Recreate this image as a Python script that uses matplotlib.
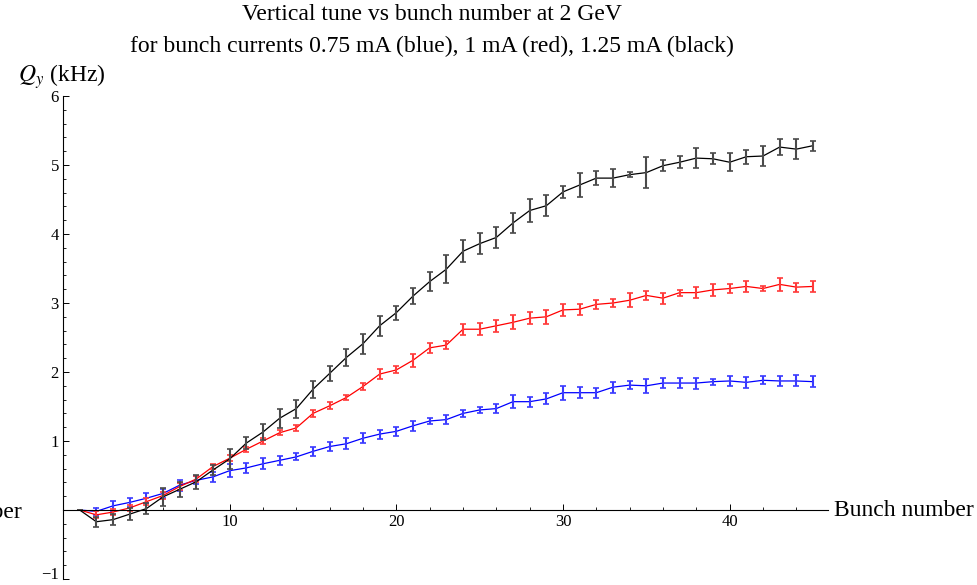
import matplotlib
matplotlib.use("Agg")
import matplotlib.pyplot as plt
import matplotlib.transforms as mtransforms
from matplotlib.ticker import MultipleLocator
import numpy as np

plt.rcParams['font.family'] = ['Liberation Serif', 'DejaVu Serif']
plt.rcParams['mathtext.fontset'] = 'stix'

# bunch numbers 1..45
bunch = list(range(1, 46))

# vertical tune shift (kHz) for 0.75 mA, 1 mA, 1.25 mA
q_blue = [0, -0.02, 0.06, 0.11, 0.17, 0.24, 0.36, 0.43, 0.48, 0.57,
          0.61, 0.67, 0.72, 0.77, 0.85, 0.92, 0.96, 1.04, 1.10, 1.14,
          1.22, 1.29, 1.31, 1.40, 1.45, 1.47, 1.57, 1.57, 1.61, 1.70,
          1.70, 1.70, 1.78, 1.81, 1.80, 1.84, 1.84, 1.84, 1.86, 1.87,
          1.85, 1.88, 1.87, 1.87, 1.86]
q_red = [0, -0.07, -0.03, 0.03, 0.12, 0.21, 0.34, 0.45, 0.63, 0.75,
         0.88, 1.00, 1.12, 1.19, 1.40, 1.51, 1.63, 1.79, 1.97, 2.03,
         2.17, 2.35, 2.39, 2.62, 2.62, 2.67, 2.72, 2.78, 2.80, 2.90,
         2.91, 2.98, 3.00, 3.04, 3.11, 3.07, 3.15, 3.15, 3.19, 3.21,
         3.24, 3.21, 3.27, 3.23, 3.24]
q_black = [0, -0.17, -0.14, -0.06, 0.02, 0.19, 0.30, 0.41, 0.58, 0.74,
           0.97, 1.13, 1.33, 1.47, 1.75, 1.98, 2.21, 2.41, 2.67, 2.86,
           3.10, 3.31, 3.49, 3.75, 3.86, 3.95, 4.16, 4.34, 4.41, 4.61,
           4.71, 4.81, 4.81, 4.86, 4.89, 4.99, 5.04, 5.10, 5.09, 5.04,
           5.12, 5.13, 5.26, 5.23, 5.28]

# error bars (half widths)
err_blue = [0, .055, .07, .06, .07, .06, .08, .06, .07, .09,
            .07, .08, .065, .05, .065, .07, .08, .07, .065, .07,
            .07, .05, .06, .045, .05, .07, .09, .07, .08, .1,
            .08, .07, .08, .06, .1, .07, .07, .08, .045, .07,
            .08, .06, .07, .08, .08]
err_red = [0, .05, .04, .04, .05, .05, .05, .04, .04, .045,
           .04, .05, .04, .04, .05, .05, .04, .05, .07, .05,
           .095, .07, .06, .08, .09, .09, .1, .09, .1, .09,
           .08, .065, .055, .1, .065, .08, .045, .075, .085, .07,
           .08, .035, .09, .065, .08]
err_black = [0, .07, .08, .09, .08, .13, .11, .1, .07, .14,
             .085, .12, .14, .13, .12, .11, .13, .145, .145, .1,
             .12, .14, .2, .16, .155, .155, .15, .17, .15, .09,
             .18, .1, .125, .035, .23, .08, .09, .14, .08, .13,
             .1, .14, .11, .14, .07]

fig = plt.figure(figsize=(9.78, 5.85), dpi=100)
ax = fig.add_axes([63/978, 1 - 579/585, (828 - 63)/978, (579 - 96)/585])

series = [(q_blue, err_blue, '#0000ff', '#3a3aff'),
          (q_red, err_red, '#ff0000', '#ff3a3a'),
          (q_black, err_black, '#000000', '#4a4a4a')]
for q, e, col, ecol in series:
    ax.plot(bunch, q, color=col, lw=0.9)
    ax.errorbar(bunch, q, yerr=e, fmt='none', ecolor=ecol, elinewidth=1.5,
                capsize=2.4, capthick=1.2)

ax.set_xlim(0, 45.9)
ax.set_ylim(-1, 6)
ax.spines['top'].set_visible(False)
ax.spines['right'].set_visible(False)
ax.spines['bottom'].set_position(('data', 0))
ax.spines['left'].set_linewidth(0.8)
ax.spines['bottom'].set_linewidth(0.8)

ax.set_xticks([10, 20, 30, 40])
ax.xaxis.set_minor_locator(MultipleLocator(2))
ax.set_yticks([-1, 1, 2, 3, 4, 5, 6])
ax.yaxis.set_minor_locator(MultipleLocator(0.2))
ax.tick_params(which='major', direction='in', length=4, width=0.7, labelsize=12, pad=3)
ax.tick_params(which='minor', direction='in', length=2, width=0.6)

# lift the -1 label a little so it stays inside the figure
for lab in ax.get_yticklabels():
    if lab.get_text().endswith('1') and lab.get_position()[1] < 0:
        lab.set_transform(lab.get_transform() +
                          mtransforms.ScaledTranslation(0, 4/72, fig.dpi_scale_trans))

fig.text(432/978, 1 - 15/585, 'Vertical tune vs bunch number at 2 GeV',
         ha='center', va='center', fontsize=17)
fig.text(432/978, 1 - 46/585,
         'for bunch currents 0.75 mA (blue), 1 mA (red), 1.25 mA (black)',
         ha='center', va='center', fontsize=17)
fig.text(18/978, 1 - 77/585, '$Q_y$ (kHz)', ha='left', va='center', fontsize=17)
fig.text(834/978, 1 - 510/585, 'Bunch number', ha='left', va='center', fontsize=17)
# leftover label from a neighbouring panel, cut by the left edge as in the original
fig.text(22/978, 1 - 512/585, 'Bunch number', ha='right', va='center', fontsize=17)

fig.savefig('out.png', dpi=100)
